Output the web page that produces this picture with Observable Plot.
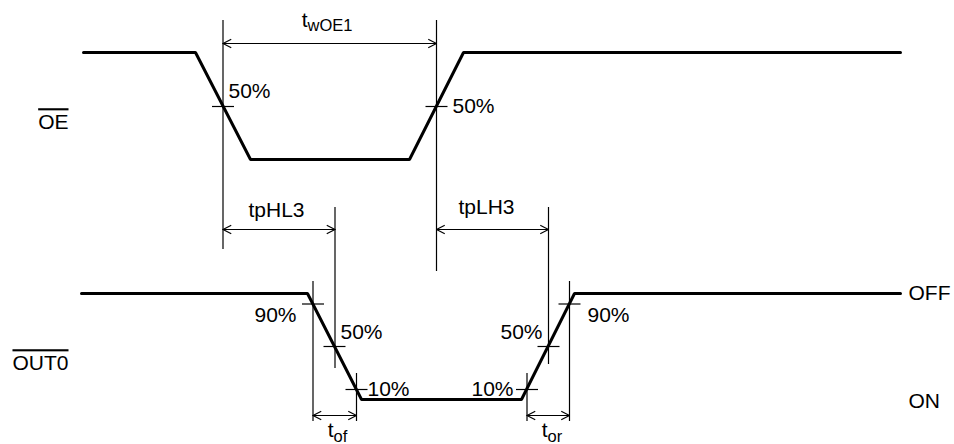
<!DOCTYPE html>
<html>
<head>
<meta charset="utf-8">
<script src="https://cdn.jsdelivr.net/npm/d3@7"></script>
<script src="https://cdn.jsdelivr.net/npm/@observablehq/plot@0.6"></script>
<style>
  html, body { margin: 0; padding: 0; background: #fff; }
  #chart svg { display: block; }
</style>
</head>
<body>
<div id="chart"></div>
<script>
// ---- Waveforms (time, level) ----
const oeTimes   = [83, 195, 250, 409, 463, 900];
const oeLevels  = [52, 52, 159, 159, 52, 52];
const outTimes  = [81, 307, 361, 521, 574, 900];
const outLevels = [293, 293, 399, 399, 293, 293];

// ---- Measurement crossing points (time, level) ----
const crossTimes  = [222.5, 436, 312.5, 334, 356, 526.5, 548, 569];
const crossLevels = [106, 106, 303.5, 346, 389, 389, 346, 303.5];

// ---- Reference (vertical) lines: time, top level, bottom level ----
const refTimes   = [222.5, 436, 334.5, 548, 312.5, 356, 526.5, 569];
const refTops    = [20, 20, 207, 207, 281, 373, 373, 281];
const refBottoms = [249, 271, 368, 364, 421, 421, 421, 421];

// ---- Interval arrows: start, end, level ----
const spanStart = [222.5, 222.5, 436, 312.5, 526.5];
const spanEnd   = [436, 334.5, 548, 356, 569];
const spanLevel = [43, 229, 229, 415, 415];

// ---- Percentage / state labels ----
const labelText   = ["50%", "50%", "tpHL3", "tpLH3", "90%", "50%", "10%", "10%", "50%", "90%", "OFF", "ON", "OE", "OUT0"];
const labelTime   = [228, 452, 276, 486, 296, 340, 367, 513, 542, 587, 908, 908, 68, 68];
const labelLevel  = [91, 106, 210, 207, 315, 332, 389, 389, 332, 315, 293, 401, 122, 363];
const labelAnchor = ["start", "start", "middle", "middle", "end", "start", "start", "end", "end", "start", "start", "start", "end", "end"];

// ---- Timing parameter labels: main letter + subscript ----
const paramMain  = ["t", "t", "t"];
const paramSub   = ["wOE1", "of", "or"];
const paramTime  = [307, 333, 547];
const paramLevel = [26, 436, 436];
const paramSubLevel = [30, 441, 441];

// build tables
const oe = oeTimes.map((t, i) => ({t, v: oeLevels[i]}));
const out0 = outTimes.map((t, i) => ({t, v: outLevels[i]}));
const crosses = crossTimes.map((t, i) => ({t, v: crossLevels[i]}));
const refs = refTimes.map((t, i) => ({t, top: refTops[i], bottom: refBottoms[i]}));
const spans = spanStart.map((s, i) => ({s, e: spanEnd[i], v: spanLevel[i]}));
const labels = labelText.map((text, i) => ({text, t: labelTime[i], v: labelLevel[i], a: labelAnchor[i]}));
const params = paramMain.map((m, i) => ({m, sub: paramSub[i], t: paramTime[i], v: paramLevel[i], vs: paramSubLevel[i]}));

const W = 954, H = 444;
const font = "'Liberation Sans', Arial, Helvetica, sans-serif";
const thin = 1.2;
const tickHalf = 11;

const textMarks = ["start", "middle", "end"].map(a =>
  Plot.text(labels.filter(d => d.a === a), {
    x: "t", y: "v", text: "text", textAnchor: a, lineAnchor: "middle",
    fontSize: 21, fill: "#000"
  })
);

const chart = Plot.plot({
  width: W,
  height: H,
  margin: 0,
  x: {domain: [0, W], range: [0, W], axis: null},
  y: {domain: [0, H], range: [0, H], axis: null},
  style: {fontFamily: font, background: "#fff"},
  marks: [
    Plot.ruleX(refs, {x: "t", y1: "top", y2: "bottom", stroke: "#000", strokeWidth: thin}),
    Plot.link(crosses, {x1: d => d.t - tickHalf, x2: d => d.t + tickHalf, y1: "v", y2: "v", stroke: "#000", strokeWidth: thin}),
    Plot.arrow(spans, {x1: "s", x2: "e", y1: "v", y2: "v", stroke: "#000", strokeWidth: thin, headLength: 11, headAngle: 55}),
    Plot.arrow(spans, {x1: "e", x2: "s", y1: "v", y2: "v", stroke: "#000", strokeWidth: thin, headLength: 11, headAngle: 55}),
    Plot.line(oe, {x: "t", y: "v", stroke: "#000", strokeWidth: 3, strokeLinejoin: "miter", curve: "linear"}),
    Plot.line(out0, {x: "t", y: "v", stroke: "#000", strokeWidth: 3, strokeLinejoin: "miter", curve: "linear"}),
    ...textMarks,
    Plot.text(params, {x: "t", y: "v", text: "m", textAnchor: "end", lineAnchor: "bottom", fontSize: 21, fill: "#000"}),
    Plot.text(params, {x: "t", y: "vs", text: "sub", textAnchor: "start", lineAnchor: "bottom", fontSize: 16.5, fill: "#000"})
  ]
});

// overline the active-low signal names
d3.select(chart).selectAll("text").each(function() {
  const s = this.textContent;
  if (s === "OE" || s === "OUT0") {
    this.setAttribute("text-decoration", "overline");
    this.style.textDecoration = "overline";
  }
});

document.getElementById("chart").appendChild(chart);
</script>
</body>
</html>
